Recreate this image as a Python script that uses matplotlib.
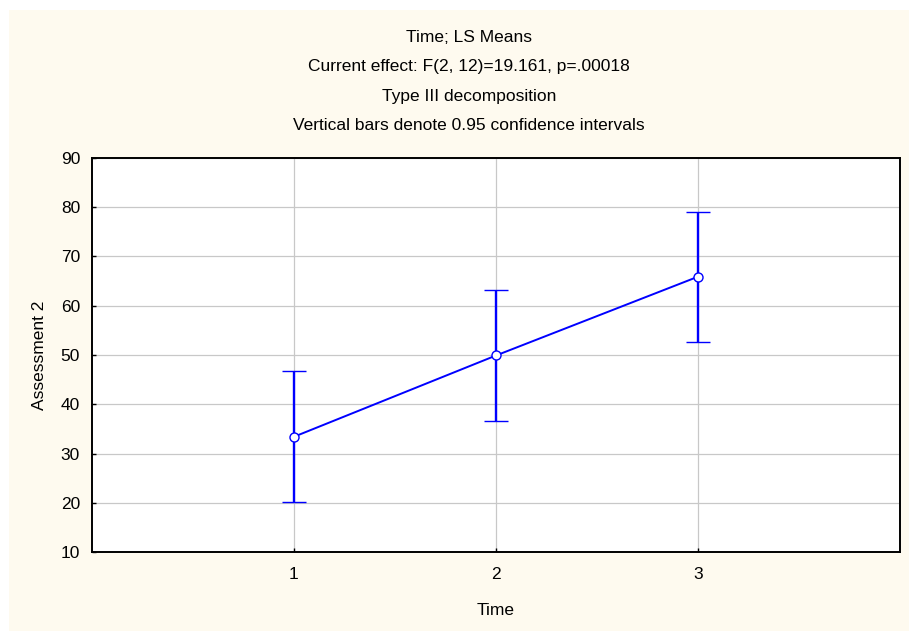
import matplotlib
matplotlib.use("Agg")
import matplotlib.pyplot as plt
from matplotlib.patches import Rectangle

plt.rcParams['font.family'] = ['Liberation Sans', 'DejaVu Sans']

# Data
time_points = [1, 2, 3]
ls_means = [33.4, 49.9, 65.9]
ci_lower = [20.2, 36.7, 52.6]
ci_upper = [46.7, 63.2, 79.1]
x_ticks = [1, 2, 3]
y_ticks = [10, 20, 30, 40, 50, 60, 70, 80, 90]
title_lines = [
    "Time; LS Means",
    "Current effect: F(2, 12)=19.161, p=.00018",
    "Type III decomposition",
    "Vertical bars denote 0.95 confidence intervals",
]

W, H = 909, 631
FS = 12.5
fig = plt.figure(figsize=(W / 100, H / 100), dpi=100)
fig.patch.set_facecolor('white')
cream = '#FEFAEF'
fig.patches.append(Rectangle((9 / W, 0), 1 - 9 / W, 1 - 10 / H,
                             transform=fig.transFigure, facecolor=cream,
                             edgecolor='none', zorder=-10))

ax = fig.add_axes([92 / W, 1 - 552 / H, (900 - 92) / W, (552 - 158) / H])
ax.set_facecolor('white')

yerr = [[m - lo for m, lo in zip(ls_means, ci_lower)],
        [hi - m for m, hi in zip(ls_means, ci_upper)]]
ax.errorbar(time_points, ls_means, yerr=yerr, color='#0000FF', lw=1.4,
            elinewidth=1.7, capsize=8.5, capthick=1.7, marker='o', ms=6.5,
            mfc='white', mec='#0000FF', mew=1.0, zorder=3)

ax.set_xlim(0, 4)
ax.set_ylim(10, 90)
ax.set_xticks(x_ticks)
ax.set_yticks(y_ticks)
ax.grid(True, color='#C8C8C8', lw=0.9)
ax.set_axisbelow(True)
ax.tick_params(direction='in', length=3, width=1, labelsize=FS, colors='black')
ax.tick_params(axis='y', pad=8.6)
ax.tick_params(axis='x', pad=11)
for s in ax.spines.values():
    s.set_linewidth(1.4)
    s.set_color('black')

ax.set_xlabel('Time', fontsize=FS, labelpad=15)
ax.set_ylabel('Assessment 2', fontsize=FS, labelpad=10)

ys = [37, 67, 96, 126]
for t, y in zip(title_lines, ys):
    fig.text(469 / W, 1 - y / H, t, ha='center', va='center', fontsize=FS)

fig.savefig('out.png', dpi=100, facecolor=fig.get_facecolor())
